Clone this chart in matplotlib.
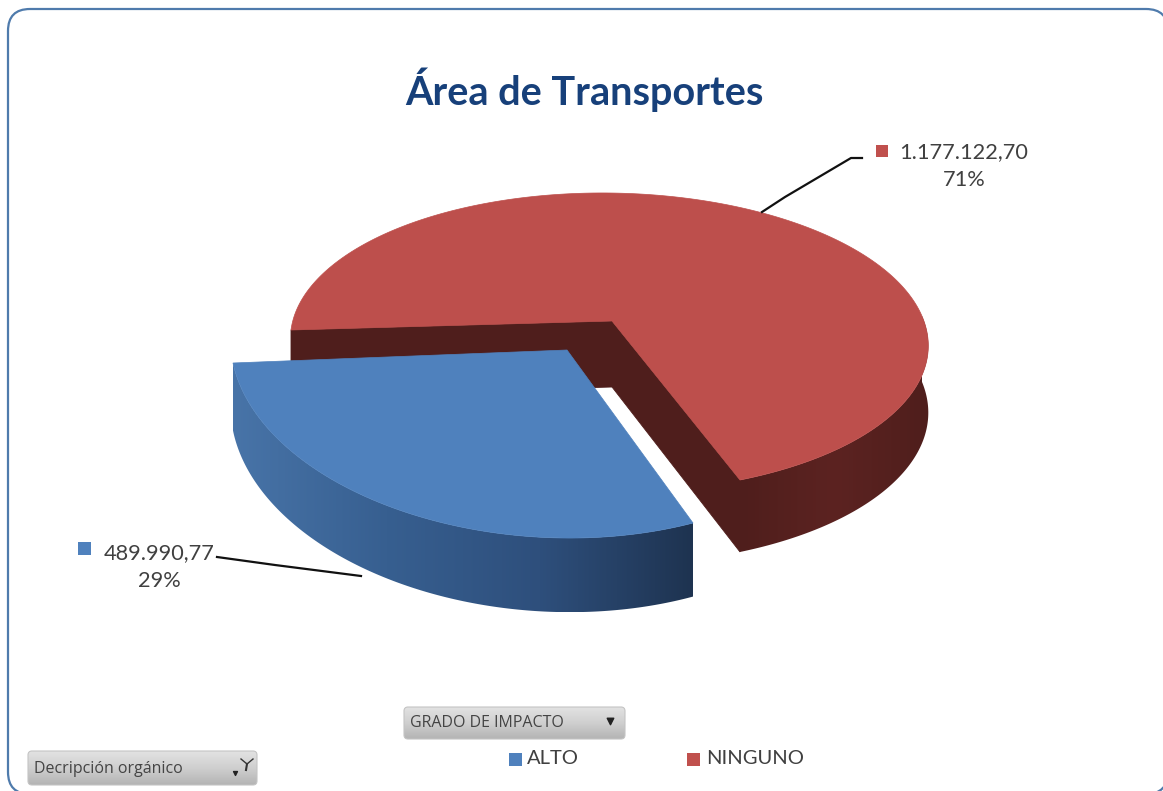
import numpy as np
import matplotlib
matplotlib.use('Agg')
import matplotlib.pyplot as plt
from matplotlib.patches import FancyBboxPatch, Polygon, Rectangle
from matplotlib.colors import LinearSegmentedColormap

# ── Data ──
categories = ["ALTO", "NINGUNO"]
values = [489990.77, 1177122.70]
value_labels = ["489.990,77", "1.177.122,70"]
pct_labels = ["29%", "71%"]
title = "Área de Transportes"
legend_title = "GRADO DE IMPACTO"
filter_title = "Decripción orgánico"

BLUE, RED = "#4f81bd", "#c0504d"
RED_TOP = "#bd4f4c"
RED_DARK = "#4f1e1c"
TEXT = "#404040"
FONT = ["Lato", "DejaVu Sans"]

START = 181.5
share = np.array(values) / sum(values)
split = START - 360 * share[1]   # red runs clockwise from the left edge
blue_end = split - 360 * share[0]


def fit_view(plane_pts, screen_pts):
    # homography from the pie plane to pixels
    A, b = [], []
    for (u, v), (x, y) in zip(plane_pts, screen_pts):
        A.append([u, v, 1, 0, 0, 0, -u * x, -v * x]); b.append(x)
        A.append([0, 0, 0, u, v, 1, -u * y, -v * y]); b.append(y)
    h = np.linalg.lstsq(np.array(A, float), np.array(b, float), rcond=None)[0]
    return np.append(h, 1).reshape(3, 3)


def unit(deg):
    return np.cos(np.radians(deg)), np.sin(np.radians(deg))


def project(H, deg):
    deg = np.atleast_1d(deg)
    p = H @ np.vstack([np.cos(np.radians(deg)), np.sin(np.radians(deg)), np.ones_like(deg)])
    return np.column_stack([p[0] / p[2], p[1] / p[2]])


def centre(H):
    return H[:2, 2] / H[2, 2]


def depth(y):
    return 66 + (y - 321) * 6 / 160


def extrude(pts):
    low = np.column_stack([pts[:, 0], pts[:, 1] + depth(pts[:, 1])])
    return np.vstack([pts, low[::-1]])


def side(ax, pts, colors, z):
    # outer wall with a horizontal gradient, clipped to the wall outline
    outline = extrude(pts)
    poly = Polygon(outline, closed=True, fc="none", ec="none", zorder=z)
    ax.add_patch(poly)
    cm = LinearSegmentedColormap.from_list("wall", colors)
    x0, x1 = outline[:, 0].min(), outline[:, 0].max()
    y0, y1 = outline[:, 1].min(), outline[:, 1].max()
    im = ax.imshow(np.linspace(0, 1, 256).reshape(1, -1), cmap=cm, extent=(x0, x1, y1, y0),
                   aspect="auto", zorder=z)
    im.set_clip_path(poly)


def grad_button(ax, x0, y0, x1, y1):
    box = FancyBboxPatch((x0, y0), x1 - x0, y1 - y0, boxstyle="round,pad=0,rounding_size=4",
                         fc="none", ec="#c4c4c4", lw=0.8, zorder=6)
    ax.add_patch(box)
    cm = LinearSegmentedColormap.from_list("btn", ["#e2e2e2", "#cfcfcf", "#b4b4b4"])
    im = ax.imshow(np.linspace(0, 1, 64).reshape(-1, 1), cmap=cm, extent=(x0, x1, y1, y0),
                   aspect="auto", zorder=5)
    im.set_clip_path(box)


fig = plt.figure(figsize=(11.63, 7.91), dpi=100)
ax = fig.add_axes([0, 0, 1, 1])

# marco: the right and bottom edges run off the picture
ax.add_patch(FancyBboxPatch((8, 9), 1160, 785, boxstyle="round,pad=0,rounding_size=22",
                            fc="white", ec="#4f7bac", lw=1.6, zorder=0))

ax.text(584, 90, title, family=FONT, fontsize=28.5, fontweight="bold", color="#17407a",
        ha="center", va="center", zorder=8)

# ── Rebanada roja ──
H_red = fit_view([(0, 0), unit(START), unit(split), unit(90)],
                 [(612, 321), (291, 330), (740, 480), (596, 193)])
apex_r = centre(H_red)
left_r = project(H_red, [START])[0]
end_r = project(H_red, [split])[0]
side(ax, project(H_red, np.linspace(split, 0, 160)), ["#4f1e1c", "#5c2321", "#4f1e1c"], 1)
for a, b in [(left_r, apex_r), (apex_r, end_r)]:
    ax.add_patch(Polygon([a, b, (b[0], b[1] + depth(b[1])), (a[0], a[1] + depth(a[1]))],
                         closed=True, fc=RED_DARK, ec=RED_DARK, lw=0.6, zorder=1.5))
arc_r = project(H_red, np.linspace(START, split, 300))
ax.add_patch(Polygon(np.vstack([apex_r, arc_r]), closed=True, fc=RED_TOP, ec=RED_TOP, lw=0.5, zorder=2))

# ── Rebanada azul ──
H_blue = fit_view([(0, 0), unit(blue_end), unit(split), unit((split + blue_end) / 2)],
                  [(567, 350), (233, 363), (693, 523), (405, 512)])
arc_b = project(H_blue, np.linspace(blue_end, split, 200))
side(ax, arc_b, ["#4874a8", "#375f90", "#2e4f7c", "#1e3350"], 3)
apex_b = centre(H_blue)
ax.add_patch(Polygon(np.vstack([apex_b, arc_b]), closed=True, fc=BLUE, ec=BLUE, lw=0.5, zorder=4))

# ── Líneas guía ──
ax.plot([762, 785, 851, 862], [212, 197, 158, 158], color="#111111", lw=1.6, zorder=5)
ax.plot([217, 275, 361], [557, 565, 576], color="#111111", lw=1.6, zorder=2.5)

# ── Etiquetas ──
ax.add_patch(Rectangle((876, 145), 12, 12, fc=RED, ec="none", zorder=6))
ax.text(964, 152, value_labels[1], family=FONT, fontsize=15.7, color=TEXT, ha="center", va="center", zorder=8)
ax.text(964, 180, pct_labels[1], family=FONT, fontsize=15.7, color=TEXT, ha="center", va="center", zorder=8)
ax.add_patch(Rectangle((78, 542), 13, 13, fc=BLUE, ec="none", zorder=6))
ax.text(159, 553, value_labels[0], family=FONT, fontsize=15.7, color=TEXT, ha="center", va="center", zorder=8)
ax.text(159, 581, pct_labels[0], family=FONT, fontsize=15.7, color=TEXT, ha="center", va="center", zorder=8)

# ── Botones ──
grad_button(ax, 404, 707, 625, 739)
ax.text(410, 723, legend_title, family=["Open Sans", "DejaVu Sans"], fontsize=11.5, color="#444444",
        ha="left", va="center", zorder=8)
ax.scatter([610], [721], marker="v", s=22, color="#222222", zorder=8)

grad_button(ax, 28, 751, 257, 785)
ax.text(34, 769, filter_title, family=["Open Sans", "DejaVu Sans"], fontsize=11.5, color="#444444",
        ha="left", va="center", zorder=8)
ax.scatter([235], [773], marker="v", s=8, color="#222222", zorder=8)
ax.plot([241, 247, 253], [759, 764, 759], color="#333333", lw=1.0, zorder=8)
ax.plot([247, 246], [764, 770], color="#333333", lw=1.5, zorder=8)

# ── Leyenda ──
ax.add_patch(Rectangle((509, 753), 13, 13, fc=BLUE, ec="none", zorder=6))
ax.text(527, 759, categories[0], family=FONT, fontsize=14.5, color=TEXT, ha="left", va="center", zorder=8)
ax.add_patch(Rectangle((687, 753), 13, 13, fc=RED, ec="none", zorder=6))
ax.text(706, 759, categories[1], family=FONT, fontsize=14.5, color=TEXT, ha="left", va="center", zorder=8)

# imshow resets the limits, so fix them last
ax.set_xlim(0, 1163)
ax.set_ylim(791, 0)
ax.axis("off")

fig.savefig("out.png", dpi=100)
